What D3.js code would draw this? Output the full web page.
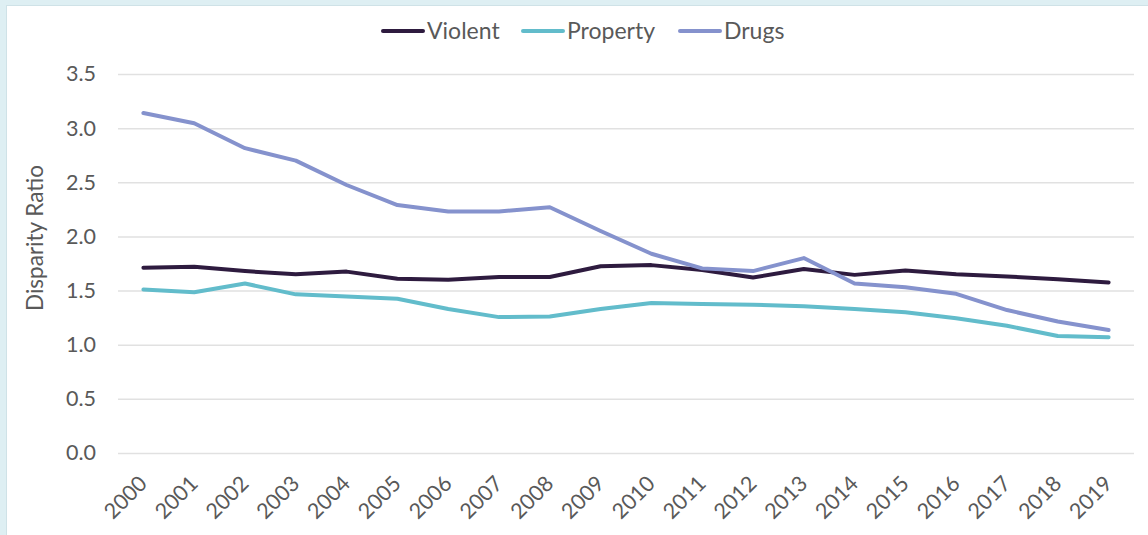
<!DOCTYPE html>
<html>
<head>
<meta charset="utf-8">
<script src="https://cdn.jsdelivr.net/npm/d3@7"></script>
<style>
  html, body { margin: 0; padding: 0; background: #deeff3; }
  svg { display: block; }
</style>
</head>
<body>
<svg id="chart" width="1148" height="535"></svg>
<script>
// Racial disparity ratios by offense type, 2000–2019
const years = ["2000","2001","2002","2003","2004","2005","2006","2007","2008","2009",
               "2010","2011","2012","2013","2014","2015","2016","2017","2018","2019"];
const violent  = [1.71,1.72,1.68,1.65,1.675,1.61,1.60,1.625,1.625,1.725,1.735,1.69,1.62,1.70,1.645,1.685,1.65,1.63,1.605,1.575];
const property = [1.51,1.485,1.565,1.465,1.445,1.425,1.33,1.255,1.26,1.33,1.385,1.375,1.37,1.355,1.33,1.30,1.245,1.175,1.08,1.07];
const drugs    = [3.14,3.045,2.815,2.70,2.475,2.29,2.23,2.23,2.27,2.05,1.84,1.705,1.68,1.80,1.565,1.53,1.47,1.32,1.215,1.135];
const yTicks   = [0, 0.5, 1.0, 1.5, 2.0, 2.5, 3.0, 3.5];

const seriesNames  = ["Violent", "Property", "Drugs"];
const seriesValues = [violent, property, drugs];
const seriesColors = ["#2e1b3f", "#62bccb", "#8592cd"];

const svg = d3.select("#chart");
const W = 1148, H = 535;
const font = "Lato, 'Open Sans', sans-serif";
const textColor = "#595959";

// White card over the tinted page background
svg.append("rect").attr("x", 7).attr("y", 5).attr("width", W - 7).attr("height", H - 5)
  .attr("fill", "#ffffff");
svg.append("line").attr("x1", 7).attr("x2", W).attr("y1", 5.5).attr("y2", 5.5)
  .attr("stroke", "#cfe2e7").attr("stroke-width", 1);
svg.append("line").attr("x1", 6.5).attr("x2", 6.5).attr("y1", 5).attr("y2", H)
  .attr("stroke", "#cfe2e7").attr("stroke-width", 1);

const x = d3.scaleBand().domain(years).range([118, 1134]);
const y = d3.scaleLinear().domain([0, 3.5]).range([453, 74]);
const cx = d => x(d) + x.bandwidth() / 2;

// Horizontal gridlines
const yAxis = d3.axisLeft(y).tickValues(yTicks).tickFormat(d3.format(".1f"))
  .tickSize(-(1134 - 118)).tickPadding(22);
const gy = svg.append("g").attr("transform", "translate(118,0)").call(yAxis);
gy.select(".domain").remove();
gy.selectAll(".tick line").attr("stroke", "#e1e1e1").attr("stroke-width", 1.5);
gy.selectAll(".tick text").attr("fill", textColor).attr("font-family", font)
  .attr("font-size", 21.5);

// Category axis with slanted year labels
const xAxis = d3.axisBottom(x).tickSize(0).tickPadding(0);
const gx = svg.append("g").attr("transform", "translate(0,453)").call(xAxis);
gx.select(".domain").remove();
gx.selectAll(".tick text")
  .attr("fill", textColor).attr("font-family", font).attr("font-size", 21.5)
  .attr("text-anchor", "end").attr("dy", null).attr("y", 0)
  .attr("transform", "translate(5,32) rotate(-45)");

// Y axis title
svg.append("text")
  .attr("transform", "translate(43,238) rotate(-90)")
  .attr("text-anchor", "middle")
  .attr("fill", textColor).attr("font-family", font).attr("font-size", 22.5)
  .text("Disparity Ratio");

// Series lines
const line = d3.line().x((d, i) => cx(years[i])).y(d => y(d));
seriesValues.forEach((vals, k) => {
  svg.append("path").datum(vals)
    .attr("d", line)
    .attr("fill", "none")
    .attr("stroke", seriesColors[k])
    .attr("stroke-width", 4)
    .attr("stroke-linejoin", "round")
    .attr("stroke-linecap", "round");
});

// Legend
const legendX = [383, 523, 680];
seriesNames.forEach((name, k) => {
  const g = svg.append("g").attr("transform", `translate(${legendX[k]},31)`);
  g.append("line").attr("x1", 0).attr("x2", 40).attr("y1", 0).attr("y2", 0)
    .attr("stroke", seriesColors[k]).attr("stroke-width", 4).attr("stroke-linecap", "round");
  g.append("text").attr("x", 44).attr("y", 0).attr("dy", "0.35em")
    .attr("fill", textColor).attr("font-family", font).attr("font-size", 23)
    .text(name);
});
</script>
</body>
</html>
